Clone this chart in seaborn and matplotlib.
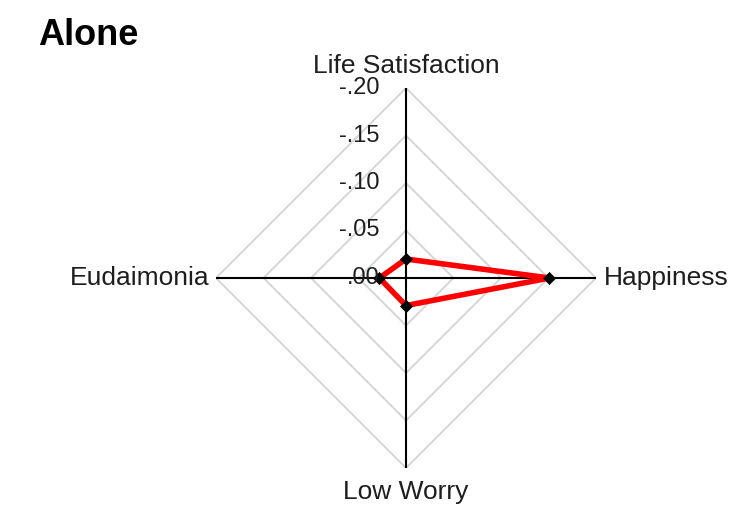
import numpy as np
import matplotlib
matplotlib.use("Agg")
import matplotlib.pyplot as plt
import seaborn as sns

# data
title = "Alone"
categories = ["Life Satisfaction", "Happiness", "Low Worry", "Eudaimonia"]
values = [-0.020, -0.151, -0.029, -0.028]
levels = [0.00, -0.05, -0.10, -0.15, -0.20]
level_labels = [".00", "-.05", "-.10", "-.15", "-.20"]

sns.set_style("white")
plt.rcParams["font.family"] = ["Liberation Sans", "DejaVu Sans"]

fig = plt.figure(figsize=(7.44, 5.16), dpi=100)
ax = fig.add_axes([216 / 744, 48 / 516, 380 / 744, 380 / 516], projection="polar")
ax.set_theta_offset(np.pi / 2)
ax.set_theta_direction(-1)
ax.set_ylim(0, 0.2)
ax.grid(False)
ax.spines["polar"].set_visible(False)
ax.set_xticks([])
ax.set_yticks([])

n = len(categories)
theta = np.linspace(0, 2 * np.pi, n, endpoint=False)
theta_closed = np.append(theta, theta[0])
rmax = -min(levels)

# diamond grid
for lv in levels[1:]:
    ax.plot(theta_closed, [-lv] * (n + 1), color="#d6d6d6", lw=1.4, zorder=1)

# axis spokes
for t in theta:
    ax.plot([t, t], [0, rmax], color="black", lw=1.5, zorder=2)

# data polygon
r = [-v for v in values]
r_closed = r + [r[0]]
sns.lineplot(x=theta_closed, y=r_closed, sort=False, estimator=None,
             color="red", lw=4, ax=ax, zorder=3)
sns.scatterplot(x=theta, y=r, marker="D", color="black", s=38,
                edgecolor="black", ax=ax, zorder=4)
ax.set_ylim(0, rmax)

# radial tick labels along the top spoke
for lv, lab in zip(levels, level_labels):
    ax.annotate(lab, xy=(0, -lv), xytext=(-26, 0), textcoords="offset pixels",
                ha="right", va="center", fontsize=17, color="#1e1e1e",
                annotation_clip=False, zorder=5)

# category labels
offsets = [(0, 15, "center", "baseline"), (8, 0, "left", "center"),
           (0, -12, "center", "top"), (-6, 0, "right", "center")]
for t, lab, (dx, dy, ha, va) in zip(theta, categories, offsets):
    ax.annotate(lab, xy=(t, rmax), xytext=(dx, dy), textcoords="offset pixels",
                ha=ha, va=va, fontsize=19, color="#1e1e1e",
                annotation_clip=False)

fig.text(38 / 744, 1 - 45 / 516, title, fontsize=26, fontweight="bold",
         ha="left", va="baseline", color="black")

fig.savefig("out.png", dpi=100)
